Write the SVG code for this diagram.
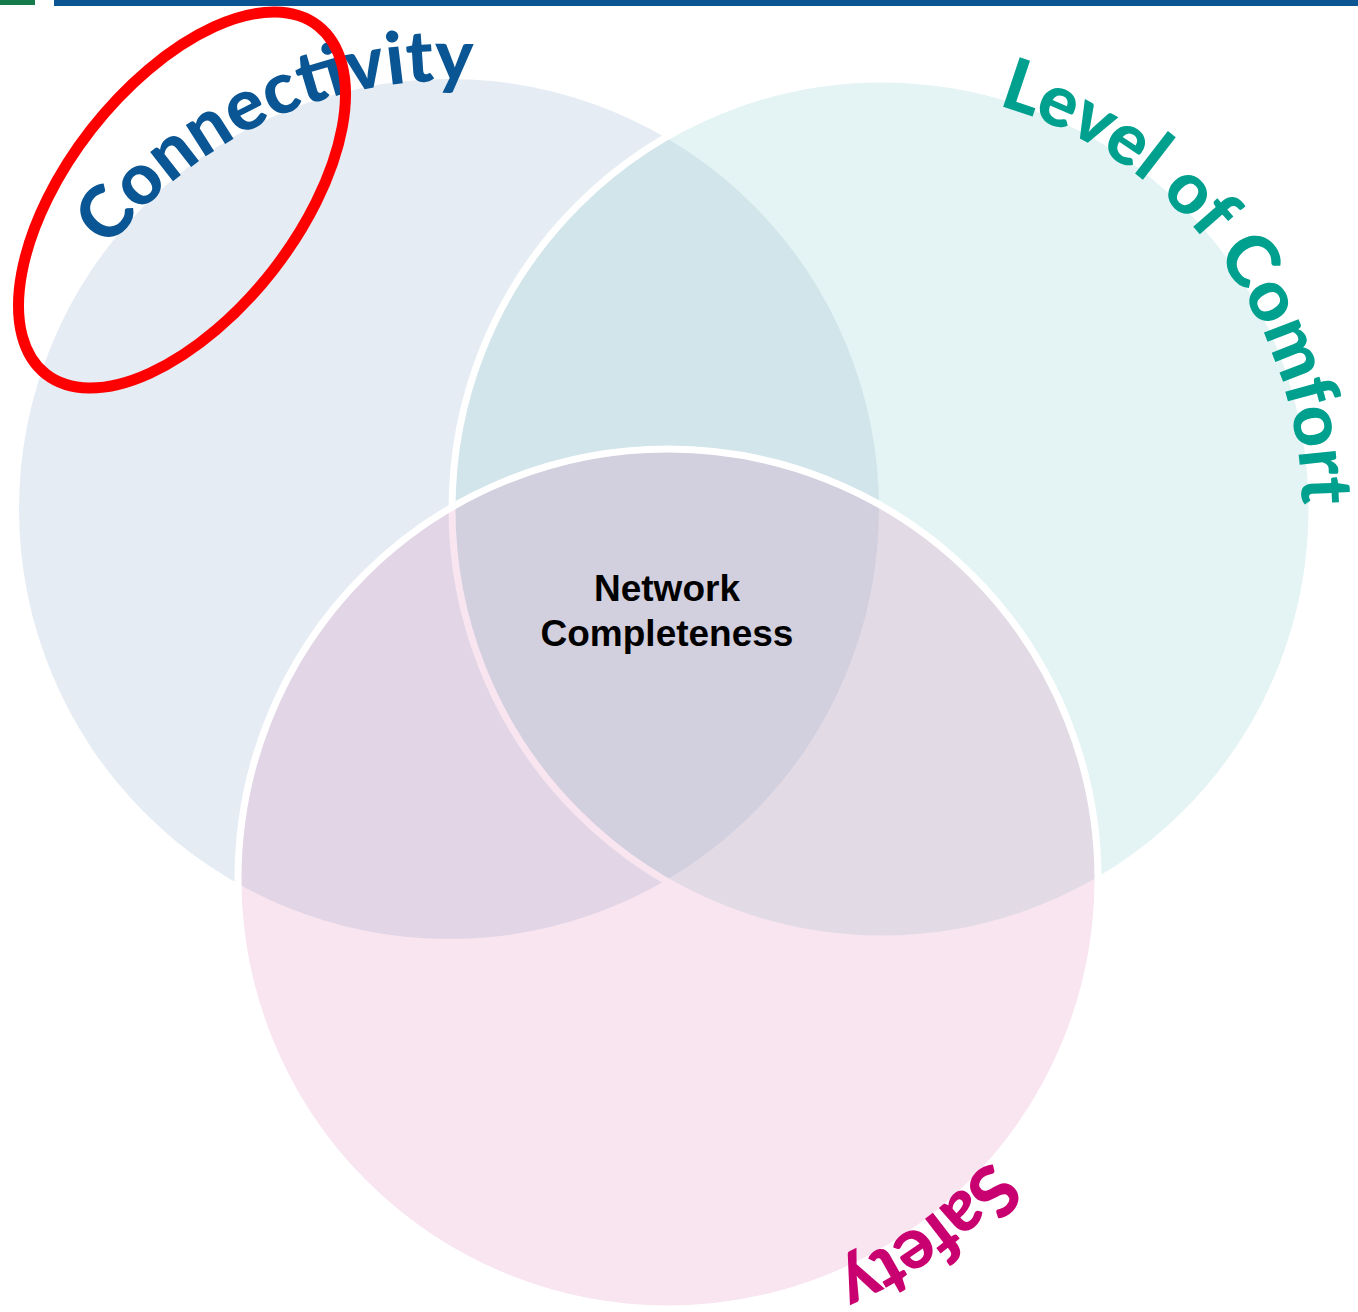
<svg xmlns="http://www.w3.org/2000/svg" width="1358" height="1312" viewBox="0 0 1358 1312">
  <style>
    .ring { stroke: #ffffff; stroke-width: 7; }
    .arc { font-family: "Century Gothic", Lato, "DejaVu Sans", sans-serif; font-weight: 900; font-size: 72px; }
    .center { font-family: "Liberation Sans", Arial, sans-serif; font-weight: 700; font-size: 37px; fill: #000000; text-anchor: middle; }
  </style>
  <defs>
    <path id="pathBlue" d="M 21 509 A 428 428 0 1 1 877 509 A 428 428 0 1 1 21 509"/>
    <path id="pathTeal" d="M 462 509 A 420 420 0 1 1 1302 509 A 420 420 0 1 1 462 509"/>
    <path id="pathPink" d="M 242 879 A 426 426 0 1 1 1094 879 A 426 426 0 1 1 242 879"/>
  </defs>
  <rect x="0" y="0" width="1358" height="1312" fill="#ffffff"/>
  <g id="header-bars">
    <rect x="0" y="0" width="35" height="5" fill="#157a4a"/>
    <rect x="54" y="0" width="1304" height="6" fill="#0a5592"/>
  </g>
  <g id="connectivity">
    <circle cx="449" cy="509" r="430" fill="#e5ecf3"/>
  </g>
  <g id="level-of-comfort">
    <circle class="ring" cx="882" cy="509" r="430" fill="#9bd3d3" fill-opacity="0.27"/>
  </g>
  <g id="safety">
    <circle class="ring" cx="668" cy="879" r="430" fill="#d86eac" fill-opacity="0.18"/>
  </g>
  <g id="labels">
    <text class="arc" fill="#0a5593"><textPath href="#pathBlue" startOffset="488" text-anchor="middle" textLength="417" lengthAdjust="spacing">Connectivity</textPath></text>
    <text class="arc" fill="#00a08f"><textPath href="#pathTeal" startOffset="1046" text-anchor="middle" textLength="538" lengthAdjust="spacing">Level of Comfort</textPath></text>
    <text class="arc" fill="#c9006f"><textPath href="#pathPink" startOffset="1740" text-anchor="middle" textLength="193" lengthAdjust="spacing">Safety</textPath></text>
  </g>
  <g id="network-completeness">
    <text class="center" x="667" y="601">Network</text>
    <text class="center" x="667" y="646">Completeness</text>
  </g>
  <g id="highlight">
    <ellipse cx="182" cy="200" rx="221" ry="115" transform="rotate(-52 182 200)" fill="none" stroke="#ff0000" stroke-width="11"/>
  </g>
  <g id="connectors"/>
</svg>
